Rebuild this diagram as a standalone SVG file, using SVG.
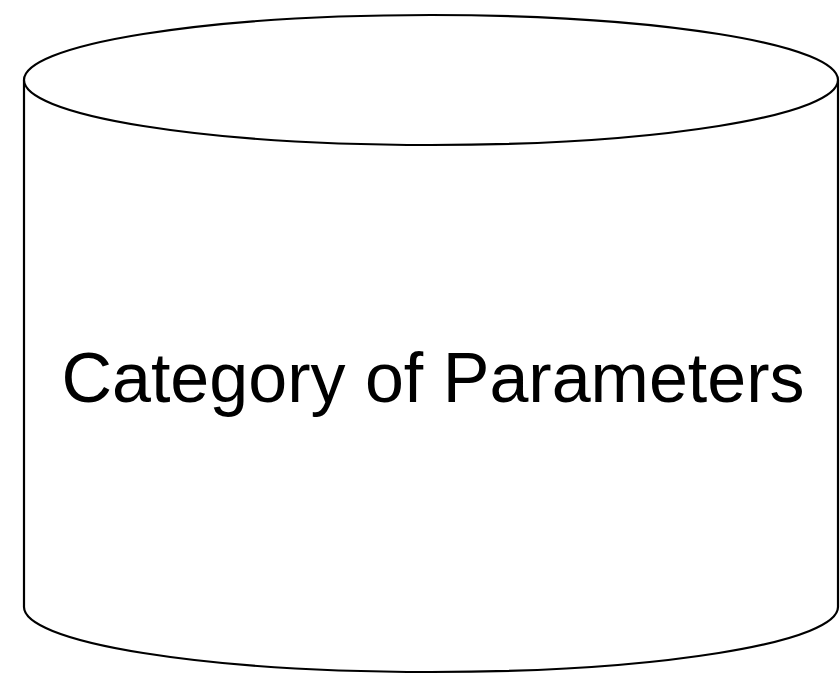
<svg xmlns="http://www.w3.org/2000/svg" width="840" height="675" viewBox="0 0 840 675">
<style>
.shape{fill:#ffffff;stroke:#000000;stroke-width:2.2}
.label{font-family:"Liberation Sans",Arial,sans-serif;font-size:70px;fill:#000000;text-anchor:middle}
</style>
<rect width="840" height="675" fill="#ffffff"/>
<g id="cylinder">
<path class="shape" d="M24,80 L24,607 A407,65 0 0 0 838,607 L838,80 A407,65 0 0 0 24,80 Z"/>
<path class="shape" fill="none" d="M24,80 A407,65 0 0 0 838,80"/>
<text class="label" x="433" y="402">Category of Parameters</text>
</g>
<g id="connectors"/>
</svg>
